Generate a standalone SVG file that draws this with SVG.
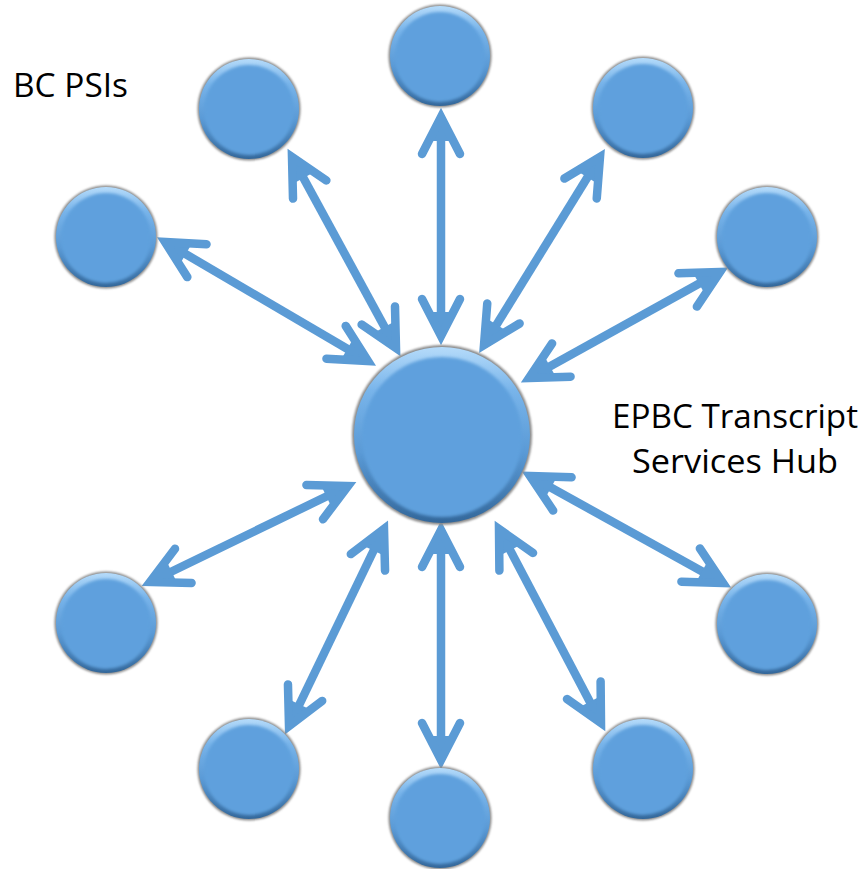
<svg xmlns="http://www.w3.org/2000/svg" width="865" height="869" viewBox="0 0 865 869">
<style>
.shadow{fill:#8a8a8a;filter:url(#soft);}
.rim{fill:url(#bevel);}
.face{fill:#5fa0dd;filter:url(#soft2);}
.conn line{stroke:#5b9bd5;stroke-width:8.5;marker-start:url(#head);marker-end:url(#head);}
.lbl{font-family:"Open Sans","Liberation Sans",sans-serif;font-size:32px;fill:#000;}
</style>
<defs>
<linearGradient id="bevel" x1="0" y1="0" x2="0" y2="1">
<stop offset="0" stop-color="#b5dbfa"/>
<stop offset="0.25" stop-color="#78b4ea"/>
<stop offset="0.6" stop-color="#5a9ad6"/>
<stop offset="1" stop-color="#33679a"/>
</linearGradient>
<filter id="soft" x="-20%" y="-20%" width="140%" height="140%"><feGaussianBlur stdDeviation="1.2"/></filter>
<filter id="soft2" x="-20%" y="-20%" width="140%" height="140%"><feGaussianBlur stdDeviation="1.5"/></filter>
<marker id="head" markerUnits="userSpaceOnUse" markerWidth="100" markerHeight="100" refX="0" refY="0" viewBox="-50 -50 100 100" orient="auto-start-reverse" overflow="visible">
<path d="M 0,0 L -24,-12.5 L -24,12.5 Z" fill="#5b9bd5"/>
<path d="M -37,-19 L 0,0 L -37,19" fill="none" stroke="#5b9bd5" stroke-width="8.5" stroke-linecap="round" stroke-linejoin="miter" stroke-miterlimit="10"/>
</marker>
</defs>
<rect width="865" height="869" fill="#fff"/>
<g id="connectors" class="conn">
<line x1="441" y1="117" x2="441" y2="336"/>
<line x1="292" y1="157" x2="396" y2="348"/>
<line x1="165" y1="242" x2="368" y2="361"/>
<line x1="600" y1="157" x2="484" y2="345"/>
<line x1="720" y1="272" x2="529" y2="378"/>
<line x1="348" y1="486" x2="150" y2="582"/>
<line x1="384" y1="529" x2="289" y2="726"/>
<line x1="441" y1="530" x2="441" y2="760"/>
<line x1="499" y1="529" x2="601" y2="723"/>
<line x1="530" y1="476" x2="723" y2="583"/>
</g>
<g id="hub"><circle class="shadow" cx="442" cy="435" r="90"/><circle class="rim" cx="442" cy="435" r="88"/><circle class="face" cx="442" cy="437" r="80"/></g>
<g id="n-top"><circle class="shadow" cx="440" cy="56" r="51.5"/><circle class="rim" cx="440" cy="56" r="50"/><circle class="face" cx="440" cy="57" r="45"/></g>
<g id="n-topleft"><circle class="shadow" cx="249" cy="109" r="51.5"/><circle class="rim" cx="249" cy="109" r="50"/><circle class="face" cx="249" cy="110" r="45"/></g>
<g id="n-topright"><circle class="shadow" cx="643" cy="108" r="51.5"/><circle class="rim" cx="643" cy="108" r="50"/><circle class="face" cx="643" cy="109" r="45"/></g>
<g id="n-left"><circle class="shadow" cx="106" cy="237" r="51.5"/><circle class="rim" cx="106" cy="237" r="50"/><circle class="face" cx="106" cy="238" r="45"/></g>
<g id="n-right"><circle class="shadow" cx="767" cy="237" r="51.5"/><circle class="rim" cx="767" cy="237" r="50"/><circle class="face" cx="767" cy="238" r="45"/></g>
<g id="n-botleft"><circle class="shadow" cx="106" cy="623" r="51.5"/><circle class="rim" cx="106" cy="623" r="50"/><circle class="face" cx="106" cy="624" r="45"/></g>
<g id="n-botright"><circle class="shadow" cx="767" cy="624" r="51.5"/><circle class="rim" cx="767" cy="624" r="50"/><circle class="face" cx="767" cy="625" r="45"/></g>
<g id="n-botleft2"><circle class="shadow" cx="249" cy="769" r="51.5"/><circle class="rim" cx="249" cy="769" r="50"/><circle class="face" cx="249" cy="770" r="45"/></g>
<g id="n-botright2"><circle class="shadow" cx="643" cy="769" r="51.5"/><circle class="rim" cx="643" cy="769" r="50"/><circle class="face" cx="643" cy="770" r="45"/></g>
<g id="n-bottom"><circle class="shadow" cx="440" cy="818" r="51.5"/><circle class="rim" cx="440" cy="818" r="50"/><circle class="face" cx="440" cy="819" r="45"/></g>
<text class="lbl" x="13" y="97" textLength="115" lengthAdjust="spacingAndGlyphs">BC PSIs</text>
<text class="lbl" x="735" y="428" text-anchor="middle" textLength="246" lengthAdjust="spacingAndGlyphs">EPBC Transcript</text>
<text class="lbl" x="735" y="473" text-anchor="middle" textLength="206" lengthAdjust="spacingAndGlyphs">Services Hub</text>
</svg>
